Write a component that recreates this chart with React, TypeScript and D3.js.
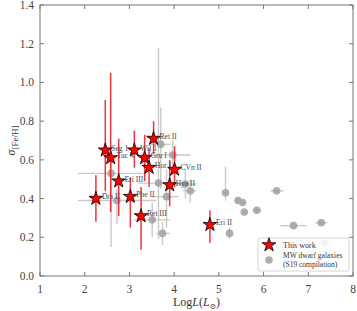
import React from 'react';
import * as d3 from 'd3';

// this work (stars)
const starNames = ['Dra II', 'Seg 1', 'Tuc V', 'Eri III', 'Phe II', 'Wil 1', 'Gru I', 'Ret III', 'Hor I', 'Ret II', 'Hya II', 'CVn II', 'Eri II'];
const starLogL = [2.25, 2.46, 2.58, 2.76, 3.02, 3.11, 3.34, 3.26, 3.44, 3.54, 3.9, 4.01, 4.8];
const starSigma = [0.4, 0.65, 0.61, 0.49, 0.41, 0.65, 0.61, 0.31, 0.56, 0.71, 0.47, 0.55, 0.265];
const starLo = [0.28, 0.44, 0.33, 0.31, 0.25, 0.56, 0.49, 0.135, 0.46, 0.63, 0.36, 0.46, 0.17];
const starHi = [0.52, 0.91, 1.05, 0.71, 0.51, 0.75, 0.73, 0.46, 0.66, 0.8, 0.6, 0.67, 0.34];

// MW dwarf galaxies (S19 compilation)
const mwLogL = [2.59, 2.72, 3.65, 3.7, 3.83, 3.97, 3.51, 3.74, 4.25, 4.36, 5.15, 5.43, 5.53, 5.57, 5.85, 6.29, 5.24, 6.67, 7.29, 7.37];
const mwSigma = [0.53, 0.39, 0.48, 0.68, 0.41, 0.625, 0.29, 0.22, 0.475, 0.44, 0.43, 0.39, 0.38, 0.33, 0.34, 0.44, 0.22, 0.26, 0.275, 0.17];
const mwSigLo = [0.15, 0.27, 0.19, 0.45, 0.25, 0.55, 0.2, 0.16, 0.4, 0.38, 0.39, 0.38, 0.37, 0.32, 0.33, 0.43, 0.19, 0.25, 0.265, 0.16];
const mwSigHi = [0.62, 0.45, 1.18, 0.87, 0.55, 0.7, 0.38, 0.28, 0.55, 0.5, 0.565, 0.4, 0.39, 0.34, 0.35, 0.45, 0.25, 0.27, 0.285, 0.18];
const mwLLo = [1.85, 1.85, 3.2, 3.47, 3.5, 3.24, 3.1, 3.6, 4.0, 4.2, 5.1, 5.38, 5.48, 5.52, 5.75, 6.15, 5.2, 6.38, 7.15, 7.2];
const mwLHi = [3.3, 3.6, 4.3, 3.92, 4.1, 4.36, 3.9, 3.9, 4.5, 4.5, 5.2, 5.48, 5.58, 5.62, 5.95, 6.45, 5.28, 6.96, 7.43, 7.5];

const xTicks = [1, 2, 3, 4, 5, 6, 7, 8];
const yTicks = [0, 0.2, 0.4, 0.6, 0.8, 1.0, 1.2, 1.4];

const W = 357, H = 311;
const m = { left: 40, right: 4, top: 5, bottom: 35 };
const font = '"Liberation Serif", "DejaVu Serif", serif';

export default function App() {
  const x = d3.scaleLinear().domain([1, 8]).range([m.left, W - m.right]);
  const y = d3.scaleLinear().domain([0, 1.4]).range([H - m.bottom, m.top]);
  const star = d3.symbol(d3.symbolStar, 60)()!;
  const axisCol = '#777';

  return (
    <svg width={W} height={H} style={{ position: 'absolute', left: 0, top: 0, background: '#fff' }} fontFamily={font}>
      {/* gray points */}
      <g stroke="#c4c4c4" strokeWidth={1.4} opacity={0.9}>
        {mwLogL.map((d, i) => (
          <g key={i}>
            <line x1={x(d)} x2={x(d)} y1={y(mwSigLo[i])} y2={y(mwSigHi[i])} />
            <line x1={x(mwLLo[i])} x2={x(mwLHi[i])} y1={y(mwSigma[i])} y2={y(mwSigma[i])} />
          </g>
        ))}
      </g>
      <g fill="#a0a0a0" opacity={0.85}>
        {mwLogL.map((d, i) => (
          <circle key={i} cx={x(d)} cy={y(mwSigma[i])} r={3.8} />
        ))}
      </g>
      {/* stars */}
      <g stroke="#ee2028" strokeWidth={1.5} opacity={0.9}>
        {starLogL.map((d, i) => (
          <line key={i} x1={x(d)} x2={x(d)} y1={y(starLo[i])} y2={y(starHi[i])} />
        ))}
      </g>
      {starLogL.map((d, i) => (
        <g key={i}>
          <path d={star} transform={`translate(${x(d)},${y(starSigma[i])})`} fill="#ff0000" stroke="#000" strokeWidth={0.8} />
          <text x={x(d) + 6} y={y(starSigma[i]) + 0.5} fontSize={7.5} fill="#444">{starNames[i]}</text>
        </g>
      ))}
      {/* frame */}
      <rect x={m.left} y={m.top} width={W - m.left - m.right} height={H - m.top - m.bottom} fill="none" stroke={axisCol} strokeWidth={1} />
      {xTicks.map((t) => (
        <g key={t}>
          <line x1={x(t)} x2={x(t)} y1={y(0)} y2={y(0) - 4} stroke={axisCol} />
          <line x1={x(t)} x2={x(t)} y1={y(1.4)} y2={y(1.4) + 4} stroke={axisCol} />
          <text x={x(t)} y={H - m.bottom + 17} textAnchor="middle" fontSize={11.5} fill="#444">{t}</text>
        </g>
      ))}
      {yTicks.map((t) => (
        <g key={t}>
          <line x1={x(1)} x2={x(1) + 4} y1={y(t)} y2={y(t)} stroke={axisCol} />
          <line x1={x(8)} x2={x(8) - 4} y1={y(t)} y2={y(t)} stroke={axisCol} />
          <text x={m.left - 6} y={y(t) + 4} textAnchor="end" fontSize={11.5} fill="#444">{t.toFixed(1)}</text>
        </g>
      ))}
      {/* axis labels */}
      <text x={(m.left + W - m.right) / 2} y={H - 5} textAnchor="middle" fontSize={12} fill="#333">
        Log<tspan fontStyle="italic">L</tspan>(<tspan fontStyle="italic">L</tspan><tspan fontSize={7.5} dy={3}>⊙</tspan><tspan dy={-3}>)</tspan>
      </text>
      <text transform={`translate(15,${y(0.7)}) rotate(-90)`} textAnchor="middle" fontSize={12} fill="#333">
        <tspan fontStyle="italic">σ</tspan><tspan fontSize={9} dy={3}>[Fe/H]</tspan>
      </text>
      {/* legend */}
      <g>
        <rect x={258} y={238} width={91} height={33} rx={2} fill="#fff" fillOpacity={0.85} stroke="#ccc" strokeWidth={0.8} />
        <path d={star} transform="translate(269,245)" fill="#ff0000" stroke="#000" strokeWidth={0.8} />
        <text x={283} y={248} fontSize={8} fill="#333">This work</text>
        <circle cx={269} cy={260} r={3.8} fill="#a0a0a0" opacity={0.85} />
        <text x={283} y={258} fontSize={7.5} fill="#333">MW dwarf galaxies</text>
        <text x={283} y={266.5} fontSize={7.5} fill="#333">(S19 compilation)</text>
      </g>
    </svg>
  );
}
